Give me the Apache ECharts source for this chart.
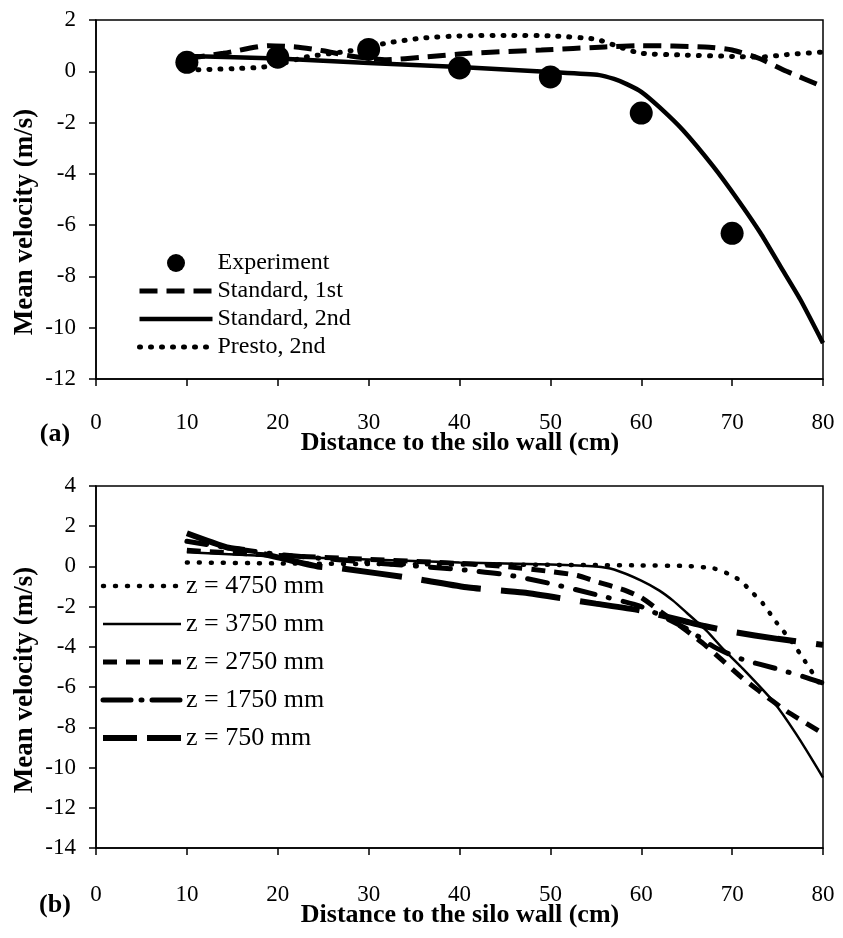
<!DOCTYPE html>
<html>
<head>
<meta charset="utf-8">
<script src="https://cdn.jsdelivr.net/npm/echarts@6/dist/echarts.min.js"></script>
<style>html,body{margin:0;padding:0;background:#fff}#c{width:843px;height:938px}</style>
</head>
<body>
<div id="c"></div>
<script>
// ---------- Panel (a) ----------
const expX = [10,20,30,40,50,60,70];
const expY = [0.35,0.55,0.85,0.13,-0.22,-1.63,-6.32];
const std1X = [10,14,19,22,25,28,32,36,41,49,56,60,67,70,73,76,80];
const std1Y = [0.5,0.7,1.0,0.95,0.8,0.6,0.45,0.55,0.7,0.83,0.95,1.0,0.95,0.83,0.5,0.0,-0.6];
const std2X = [10,20,30,40,50,55.4,57,58.4,60,62,64.6,67.9,70.6,73.1,75.3,77.5,80];
const std2Y = [0.6,0.5,0.32,0.17,-0.03,-0.15,-0.3,-0.5,-0.8,-1.4,-2.3,-3.7,-5.0,-6.3,-7.6,-8.9,-10.6];
const prestoX = [10,15,18,20,23,28,32,36,40,45,50,55,58,60,65,70,73,76,80];
const prestoY = [0.05,0.1,0.15,0.25,0.55,0.8,1.1,1.3,1.38,1.4,1.38,1.25,0.9,0.7,0.63,0.58,0.55,0.65,0.75];

// ---------- Panel (b) ----------
const z4750X = [10,20,30,40,50,60,65,68,69.5,70.9,72,73.4,74.9,76.5,78,80];
const z4750Y = [0.2,0.15,0.12,0.1,0.08,0.05,0.02,-0.1,-0.35,-0.7,-1.2,-1.85,-2.8,-3.7,-4.7,-6.1];
const z3750X = [10,20,30,40,50,55,57,60,62,63.5,65,67.2,69,71,74.5,77,80];
const z3750Y = [0.7,0.5,0.35,0.2,0.1,0.0,-0.15,-0.7,-1.2,-1.7,-2.3,-3.2,-4.1,-5.0,-6.7,-8.3,-10.5];
const z2750X = [10,20,30,40,45,50,53,55,58,60,62,65,67,69,71,73,76,80];
const z2750Y = [0.8,0.55,0.35,0.15,0.0,-0.25,-0.45,-0.75,-1.15,-1.55,-2.2,-3.2,-3.9,-4.7,-5.5,-6.2,-7.2,-8.3];
const z1750X = [10,15,20,30,40,45,50,55,60,65,68,71,75,78,80];
const z1750Y = [1.25,0.9,0.6,0.2,-0.15,-0.4,-0.85,-1.4,-2.0,-3.1,-4.0,-4.6,-5.1,-5.5,-5.8];
const z750X = [10,14.4,16.6,20,24.4,27,35,41,47,55,60,64.6,66.8,70,75,80];
const z750Y = [1.65,0.95,0.8,0.45,0.0,-0.1,-0.6,-1.05,-1.3,-1.85,-2.2,-2.7,-2.95,-3.25,-3.6,-3.9];

const legendA = ['Experiment', 'Standard, 1st', 'Standard, 2nd', 'Presto, 2nd'];
const legendB = ['z = 4750 mm', 'z = 3750 mm', 'z = 2750 mm', 'z = 1750 mm', 'z = 750 mm'];

const pairs = (xs, ys) => xs.map((x, i) => [x, ys[i]]);
const FONT = 'Liberation Serif';
const TICK_FS = 23;
const XTITLE_FONT = 'bold 26px "Liberation Serif"';
const YTITLE_FONT = 'bold 27px "Liberation Serif"';

// line styles
const sA1 = { width: 5, type: [18, 9] };
const sA2 = { width: 4.5, type: 'solid' };
const sA3 = { width: 5, type: [1, 10], cap: 'round' };
const sB0 = { width: 4.5, type: [1, 11], cap: 'round' };
const sB1 = { width: 2.5, type: 'solid' };
const sB2 = { width: 5, type: [14, 9] };
const sB3 = { width: 5, type: [20, 14, 1, 14], cap: 'round' };
const sB4 = { width: 6, type: [60, 20] };

const axisCommon = {
  axisLine: { show: true, onZero: false, lineStyle: { color: '#000', width: 1.5 } },
  axisTick: { show: true, inside: false, length: 7, lineStyle: { color: '#000', width: 1.5 } },
  splitLine: { show: false },
};

const chart = echarts.init(document.getElementById('c'), null, { renderer: 'canvas' });

function lineSeries(name, data, xi, lineStyle) {
  return {
    name, type: 'line', data, xAxisIndex: xi, yAxisIndex: xi,
    symbol: 'none', smooth: 0.2,
    lineStyle: Object.assign({ color: '#000' }, lineStyle),
    itemStyle: { color: '#000' },
    z: 3
  };
}
const hiddenSym = { opacity: 0 };
const legItem = (name, ls) => ({ name, itemStyle: hiddenSym, lineStyle: Object.assign({ color: '#000' }, ls) });

chart.setOption({
  animation: false,
  backgroundColor: '#fff',
  grid: [
    { left: 96, top: 20, width: 727, height: 359, show: true, borderColor: '#000', borderWidth: 1.5, backgroundColor: 'transparent' },
    { left: 96, top: 486, width: 727, height: 362, show: true, borderColor: '#000', borderWidth: 1.5, backgroundColor: 'transparent' }
  ],
  xAxis: [
    Object.assign({}, axisCommon, { gridIndex: 0, type: 'value', min: 0, max: 80, interval: 10,
      axisLabel: { margin: 32, fontSize: TICK_FS, fontFamily: FONT, color: '#000' } }),
    Object.assign({}, axisCommon, { gridIndex: 1, type: 'value', min: 0, max: 80, interval: 10,
      axisLabel: { margin: 35, fontSize: TICK_FS, fontFamily: FONT, color: '#000' } })
  ],
  yAxis: [
    Object.assign({}, axisCommon, { gridIndex: 0, type: 'value', min: -12, max: 2, interval: 2,
      axisLabel: { margin: 20, fontSize: TICK_FS, fontFamily: FONT, color: '#000' } }),
    Object.assign({}, axisCommon, { gridIndex: 1, type: 'value', min: -14, max: 4, interval: 2,
      axisLabel: { margin: 20, fontSize: TICK_FS, fontFamily: FONT, color: '#000' } })
  ],
  legend: [
    {
      orient: 'vertical', left: 132, top: 246, itemWidth: 73, itemHeight: 18, itemGap: 4,
      textStyle: { fontSize: 24, lineHeight: 24, fontFamily: FONT, color: '#000' },
      data: [{ name: legendA[0] }, legItem(legendA[1], sA1), legItem(legendA[2], sA2), legItem(legendA[3], sA3)]
    },
    {
      orient: 'vertical', left: 95, top: 568, itemWidth: 78, itemHeight: 18, itemGap: 12,
      textStyle: { fontSize: 26, lineHeight: 26, fontFamily: FONT, color: '#000' },
      data: [legItem(legendB[0], sB0), legItem(legendB[1], sB1), legItem(legendB[2], sB2),
             legItem(legendB[3], { width: 5, type: [28, 10, 1, 10], cap: 'round' }),
             legItem(legendB[4], { width: 6, type: [34, 10] })]
    }
  ],
  series: [
    lineSeries(legendA[1], pairs(std1X, std1Y), 0, sA1),
    lineSeries(legendA[2], pairs(std2X, std2Y), 0, sA2),
    lineSeries(legendA[3], pairs(prestoX, prestoY), 0, sA3),
    {
      name: legendA[0], type: 'scatter', data: pairs(expX, expY), xAxisIndex: 0, yAxisIndex: 0,
      symbol: 'circle', symbolSize: 23, itemStyle: { color: '#000', opacity: 1 }, z: 5
    },
    lineSeries(legendB[0], pairs(z4750X, z4750Y), 1, sB0),
    lineSeries(legendB[1], pairs(z3750X, z3750Y), 1, sB1),
    lineSeries(legendB[2], pairs(z2750X, z2750Y), 1, sB2),
    lineSeries(legendB[3], pairs(z1750X, z1750Y), 1, sB3),
    lineSeries(legendB[4], pairs(z750X, z750Y), 1, sB4)
  ],
  graphic: [
    { type: 'text', x: 25, y: 222, rotation: Math.PI / 2,
      style: { text: 'Mean velocity (m/s)', font: YTITLE_FONT, fill: '#000', align: 'center', verticalAlign: 'middle' } },
    { type: 'text', x: 25, y: 680, rotation: Math.PI / 2,
      style: { text: 'Mean velocity (m/s)', font: YTITLE_FONT, fill: '#000', align: 'center', verticalAlign: 'middle' } },
    { type: 'text', x: 460, y: 443,
      style: { text: 'Distance to the silo wall (cm)', font: XTITLE_FONT, fill: '#000', align: 'center', verticalAlign: 'middle' } },
    { type: 'text', x: 460, y: 915,
      style: { text: 'Distance to the silo wall (cm)', font: XTITLE_FONT, fill: '#000', align: 'center', verticalAlign: 'middle' } },
    { type: 'text', x: 55, y: 434,
      style: { text: '(a)', font: XTITLE_FONT, fill: '#000', align: 'center', verticalAlign: 'middle' } },
    { type: 'text', x: 55, y: 905,
      style: { text: '(b)', font: XTITLE_FONT, fill: '#000', align: 'center', verticalAlign: 'middle' } }
  ]
});
</script>
</body>
</html>
